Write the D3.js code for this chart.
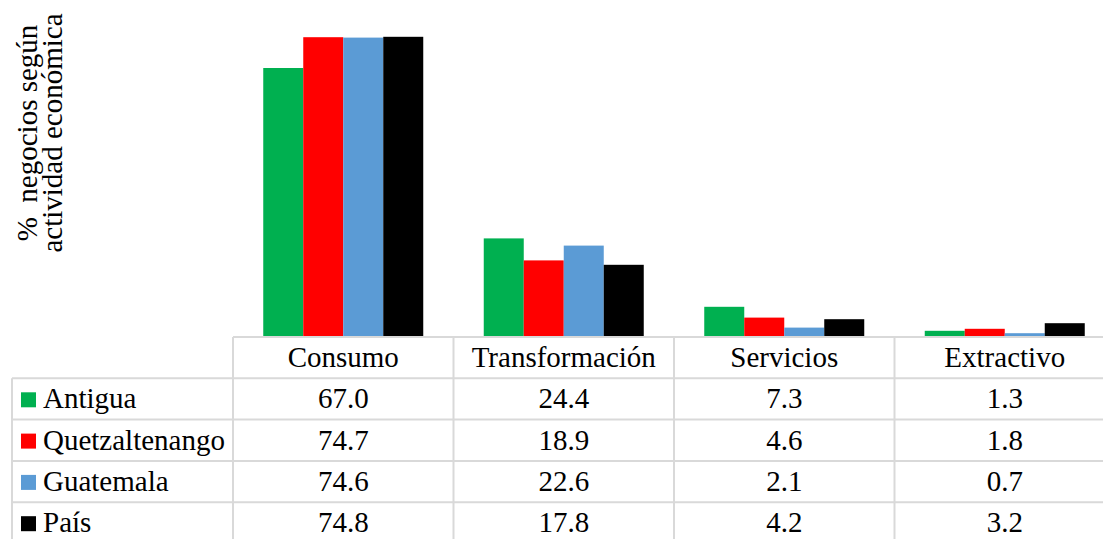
<!DOCTYPE html>
<html><head><meta charset="utf-8">
<script src="https://cdn.jsdelivr.net/npm/d3@7"></script>
<style>html,body{margin:0;padding:0;background:#fff;}svg{display:block;}
svg text{font-family:"Liberation Serif","Times New Roman",Times,Tinos,"DejaVu Serif",serif;}</style>
</head><body><svg id="c" width="1103" height="539"></svg>
<script>
const categories = ["Consumo", "Transformación", "Servicios", "Extractivo"];
const seriesNames = ["Antigua", "Quetzaltenango", "Guatemala", "País"];
const antigua = [67.0, 24.4, 7.3, 1.3];
const quetzaltenango = [74.7, 18.9, 4.6, 1.8];
const guatemala = [74.6, 22.6, 2.1, 0.7];
const pais = [74.8, 17.8, 4.2, 3.2];
const seriesColors = ["#00b050", "#ff0000", "#5b9bd5", "#000000"];
const yLabelLines = ["%  negocios según", "actividad económica"];

const series = [antigua, quetzaltenango, guatemala, pais].map((v, i) => ({name: seriesNames[i], color: seriesColors[i], values: v}));

const svg = d3.select("#c");
const fs = 29;

const x0 = d3.scaleBand().domain(categories).range([233, 1115]).paddingInner(0).paddingOuter(0);
const groupPad = (x0.bandwidth() - 160) / 2;
const x1 = d3.scaleBand().domain(seriesNames).range([groupPad, groupPad + 160]).padding(0);
const y = d3.scaleLinear().domain([0, 75]).range([336, 36]);

// bars
const g = svg.append("g");
series.forEach(s => {
  g.selectAll(null).data(categories).enter().append("rect")
    .attr("x", c => x0(c) + x1(s.name))
    .attr("width", x1.bandwidth())
    .attr("y", (c, i) => y(s.values[i]))
    .attr("height", (c, i) => y(0) - y(s.values[i]))
    .attr("fill", s.color);
});

// y label
const yl = svg.append("text")
  .attr("transform", "translate(0,133) rotate(-90)")
  .attr("font-size", fs).attr("fill", "#000")
  .attr("text-anchor", "middle")
  .style("white-space", "pre");
yLabelLines.forEach((t, i) => {
  yl.append("tspan").attr("x", 0).attr("y", i === 0 ? 37 : 62).text(t);
});

// table
const rowTop = 337, rowH = 41.3;
const lineColor = "#d9d9d9";
const tbl = svg.append("g");
const tableRight = 1103;
const nRows = seriesNames.length + 1;
const rowY = i => rowTop + i * rowH;
tbl.append("line").attr("x1", 233).attr("x2", tableRight).attr("y1", rowY(0)).attr("y2", rowY(0));
for (let i = 1; i <= nRows; i++) {
  tbl.append("line").attr("x1", 12).attr("x2", tableRight).attr("y1", rowY(i)).attr("y2", rowY(i));
}
categories.forEach(c => {
  tbl.append("line").attr("x1", x0(c)).attr("x2", x0(c)).attr("y1", rowY(0)).attr("y2", 545);
});
tbl.append("line").attr("x1", 12).attr("x2", 12).attr("y1", rowY(1)).attr("y2", 545);
tbl.selectAll("line").attr("stroke", lineColor).attr("stroke-width", 2);

// header text
svg.append("g").selectAll("text").data(categories).enter().append("text")
  .attr("x", c => x0(c) + x0.bandwidth() / 2)
  .attr("y", rowY(0) + 30)
  .attr("text-anchor", "middle").attr("font-size", fs)
  .text(c => c);

// rows
series.forEach((s, r) => {
  const yb = rowY(r + 1) + 30;
  svg.append("rect").attr("x", 21).attr("y", yb - 16).attr("width", 15).attr("height", 15).attr("fill", s.color);
  svg.append("text").attr("x", 43).attr("y", yb).attr("font-size", fs).text(s.name);
  svg.append("g").selectAll("text").data(categories).enter().append("text")
    .attr("x", c => x0(c) + x0.bandwidth() / 2)
    .attr("y", yb)
    .attr("text-anchor", "middle").attr("font-size", fs)
    .text((c, i) => s.values[i].toFixed(1));
});
</script></body></html>
